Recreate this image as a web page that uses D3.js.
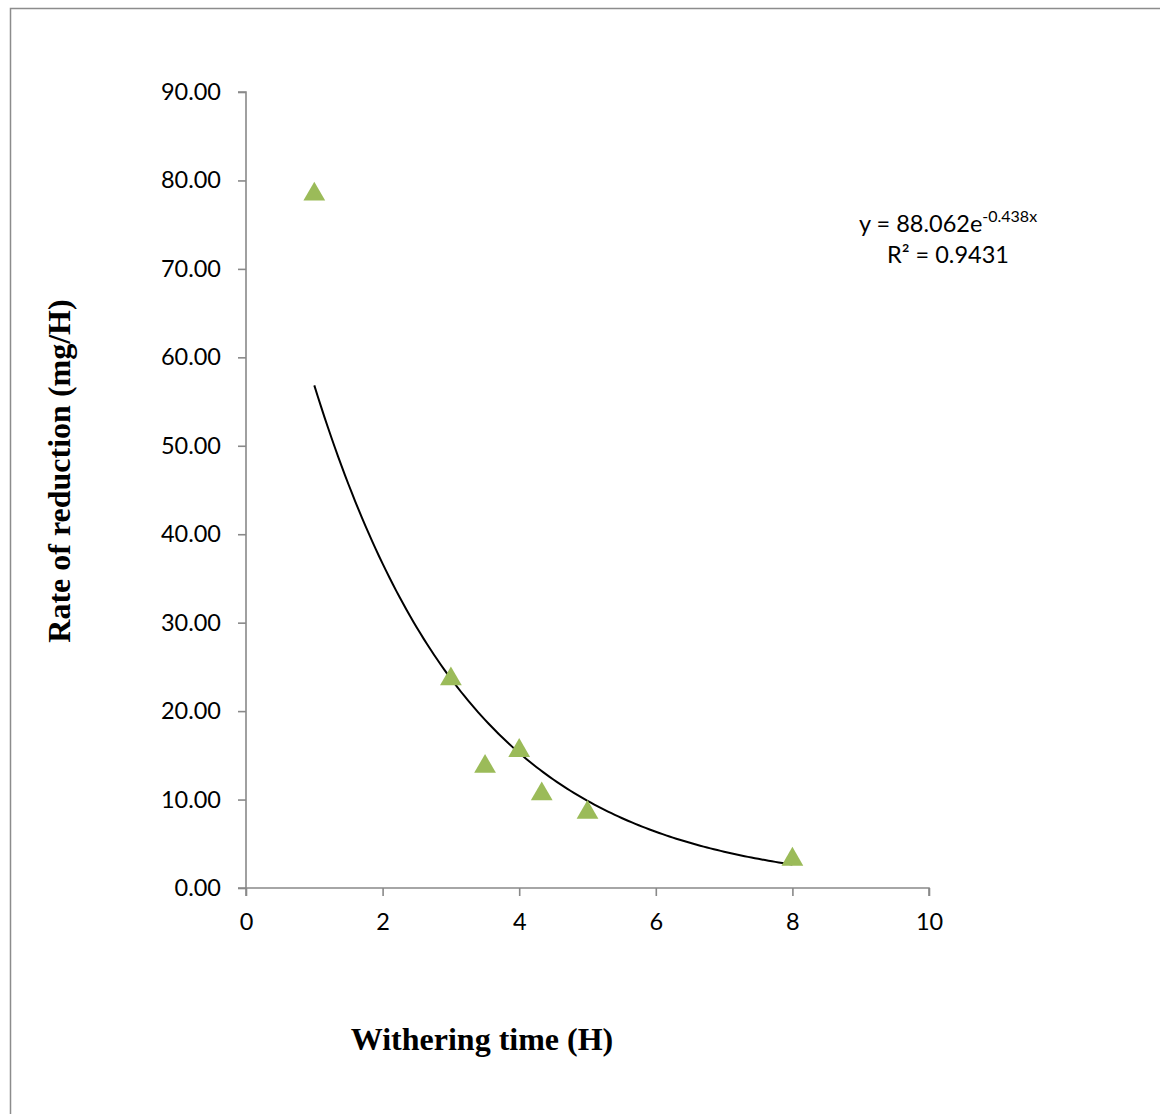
<!DOCTYPE html>
<html>
<head>
<meta charset="utf-8">
<script src="https://cdn.jsdelivr.net/npm/d3@7"></script>
<style>
  html, body { margin: 0; padding: 0; background: #fff; }
  svg { display: block; }
</style>
</head>
<body>
<svg id="chart" width="1160" height="1114"></svg>
<script>
// ---- data ----
const withering = [1, 3, 3.5, 4, 4.33, 5, 8];
const reduction = [78.6, 23.8, 13.9, 15.7, 10.8, 8.7, 3.4];
const xTicks = [0, 2, 4, 6, 8, 10];
const yTicks = [0, 10, 20, 30, 40, 50, 60, 70, 80, 90];
const fitA = 88.062;
const fitB = -0.438;
const fitR2 = "0.9431";
const xTitle = "Withering time (H)";
const yTitle = "Rate of reduction (mg/H)";

(function () {
const svg = d3.select("#chart");
const pLeft = 246, pRight = 929, pTop = 92, pBottom = 888;

// frame
svg.append("rect").attr("x", 10.5).attr("y", 8.5).attr("width", 1200).attr("height", 1200)
  .attr("fill", "#fff").attr("stroke", "#8c8c8c").attr("stroke-width", 1.5);

const x = d3.scaleLinear().domain([0, 10]).range([pLeft, pRight]);
const y = d3.scaleLinear().domain([0, 90]).range([pBottom, pTop]);

const tickFont = "Lato, 'Open Sans', sans-serif";
const axisColor = "#898989";

// y axis
const gy = svg.append("g").attr("transform", `translate(${pLeft},0)`)
  .call(d3.axisLeft(y).tickValues(yTicks).tickFormat(d3.format(".2f")).tickSize(8).tickPadding(17));
// x axis
const gx = svg.append("g").attr("transform", `translate(0,${pBottom})`)
  .call(d3.axisBottom(x).tickValues(xTicks).tickFormat(d3.format("d")).tickSize(8).tickPadding(17));

[gx, gy].forEach(g => {
  g.select(".domain").attr("stroke", axisColor).attr("stroke-width", 1.6);
  g.selectAll(".tick line").attr("stroke", axisColor).attr("stroke-width", 1.6);
  g.selectAll(".tick text").attr("fill", "#000").style("font-family", tickFont).style("font-size", "23.5px");
});
gy.select(".domain").attr("d", `M-8,${pBottom}H0V${pTop}H-8`);
gx.select(".domain").attr("d", `M${pLeft},8V0H${pRight}V8`);

// trend line
const fitX = d3.range(1, 8.0001, 0.05);
const line = d3.line().x(d => x(d)).y(d => y(fitA * Math.exp(fitB * d)));
svg.append("path").datum(fitX).attr("d", line)
  .attr("fill", "none").attr("stroke", "#000").attr("stroke-width", 2);

// points (triangles)
const tri = d3.symbol().type(d3.symbolTriangle).size(205);
svg.append("g").selectAll("path").data(withering).join("path")
  .attr("d", tri)
  .attr("transform", (d, i) => `translate(${x(d)},${y(reduction[i]) + 1.5})`)
  .attr("fill", "#9BBB59");

// equation
const eq = svg.append("text").attr("x", 859).attr("y", 232)
  .style("font-family", tickFont).style("font-size", "23.5px").attr("fill", "#000");
eq.append("tspan").text(`y = ${fitA}e`);
eq.append("tspan").attr("dy", -10).style("font-size", "16px").text(`${fitB}x`);

const r2 = svg.append("text").attr("x", 887).attr("y", 263)
  .style("font-family", tickFont).style("font-size", "23.5px").attr("fill", "#000");
r2.text(`R² = ${fitR2}`);

// axis titles
svg.append("text").attr("x", 482).attr("y", 1050).attr("text-anchor", "middle")
  .style("font-family", "'Liberation Serif', 'Times New Roman', serif").style("font-weight", "bold")
  .style("font-size", "32px").text(xTitle);
svg.append("text").attr("transform", "translate(70,471) rotate(-90)").attr("text-anchor", "middle")
  .style("font-family", "'Liberation Serif', 'Times New Roman', serif").style("font-weight", "bold")
  .style("font-size", "32px").text(yTitle);
})();
</script>
</body>
</html>
